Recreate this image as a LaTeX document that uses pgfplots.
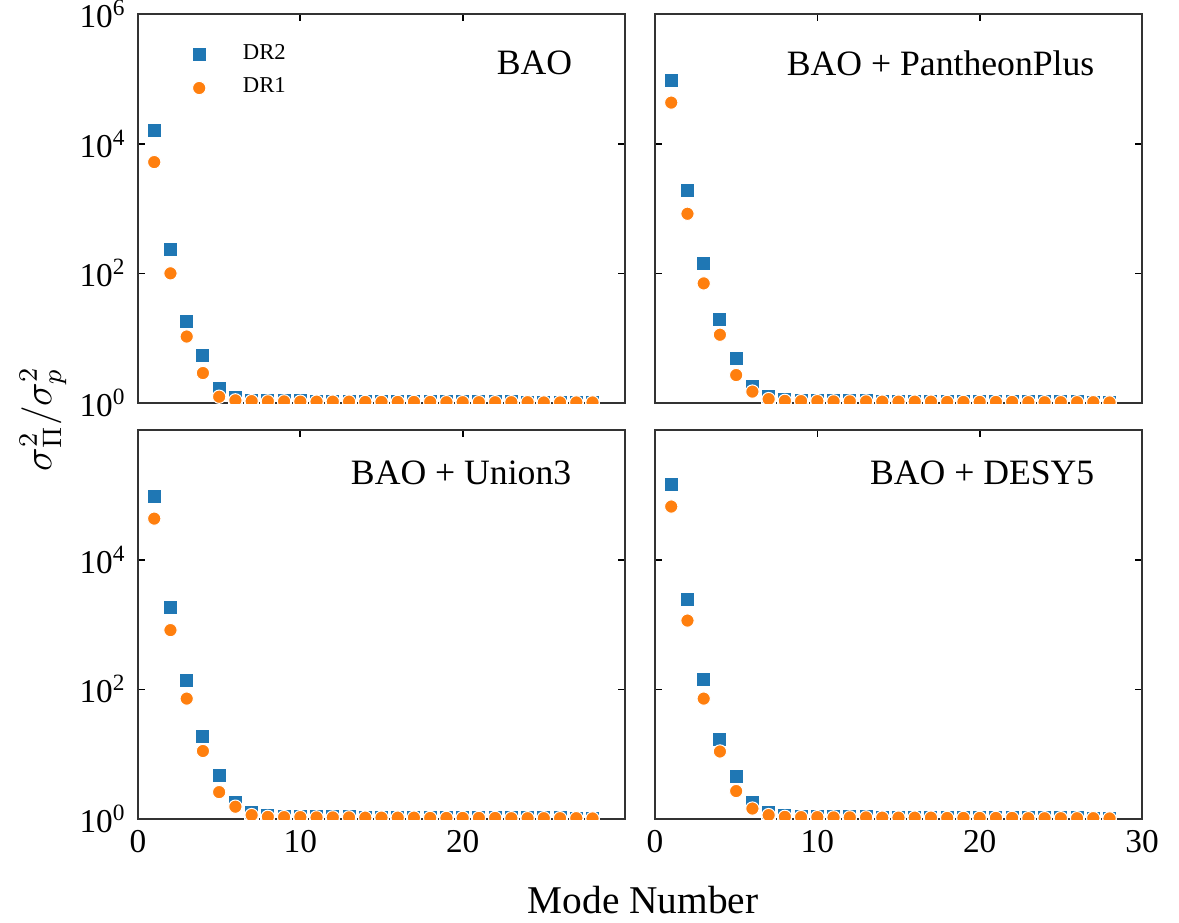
\documentclass[border=0pt]{standalone}
\usepackage{fontspec}
\setmainfont{Liberation Serif}
\usepackage{pgfplots}
\usepackage{pgfplotstable}
\pgfplotsset{compat=1.18}

\definecolor{mplblue}{HTML}{1F77B4}
\definecolor{mplorange}{HTML}{FF7F0E}

% columns: mode, DR2, DR1
\pgfplotstableread{
x dr2 dr1
1 16000 5200
2 230 100
3 18 10.6
4 5.4 2.9
5 1.7 1.25
6 1.2 1.1
7 1.1 1.07
8 1.09 1.06
9 1.08 1.06
10 1.08 1.05
11 1.07 1.05
12 1.07 1.05
13 1.06 1.05
14 1.06 1.04
15 1.06 1.04
16 1.05 1.04
17 1.05 1.04
18 1.05 1.04
19 1.05 1.03
20 1.04 1.03
21 1.04 1.03
22 1.04 1.03
23 1.04 1.03
24 1.03 1.03
25 1.03 1.02
26 1.03 1.02
27 1.03 1.02
28 1.03 1.02
}\baodata

\pgfplotstableread{
x dr2 dr1
1 93000 43000
2 1900 830
3 140 70
4 19.5 11.3
5 4.8 2.7
6 1.8 1.5
7 1.25 1.15
8 1.12 1.08
9 1.1 1.07
10 1.09 1.07
11 1.09 1.06
12 1.08 1.06
13 1.08 1.06
14 1.07 1.05
15 1.07 1.05
16 1.06 1.05
17 1.06 1.05
18 1.06 1.04
19 1.05 1.04
20 1.05 1.04
21 1.05 1.04
22 1.05 1.04
23 1.04 1.03
24 1.04 1.03
25 1.04 1.03
26 1.04 1.03
27 1.03 1.03
28 1.03 1.02
}\pantheondata

\pgfplotstableread{
x dr2 dr1
1 95000 43000
2 1800 820
3 135 72
4 18.7 11.2
5 4.7 2.6
6 1.8 1.55
7 1.25 1.15
8 1.12 1.08
9 1.1 1.07
10 1.09 1.07
11 1.09 1.06
12 1.08 1.06
13 1.08 1.06
14 1.07 1.05
15 1.07 1.05
16 1.06 1.05
17 1.06 1.05
18 1.06 1.04
19 1.05 1.04
20 1.05 1.04
21 1.05 1.04
22 1.05 1.04
23 1.04 1.03
24 1.04 1.03
25 1.04 1.03
26 1.04 1.03
27 1.03 1.03
28 1.03 1.02
}\uniondata

\pgfplotstableread{
x dr2 dr1
1 145000 66000
2 2400 1150
3 140 72
4 17 11
5 4.6 2.7
6 1.8 1.45
7 1.25 1.15
8 1.12 1.08
9 1.1 1.07
10 1.09 1.07
11 1.09 1.06
12 1.08 1.06
13 1.08 1.06
14 1.07 1.05
15 1.07 1.05
16 1.06 1.05
17 1.06 1.05
18 1.06 1.04
19 1.05 1.04
20 1.05 1.04
21 1.05 1.04
22 1.05 1.04
23 1.04 1.03
24 1.04 1.03
25 1.04 1.03
26 1.04 1.03
27 1.03 1.03
28 1.03 1.02
}\desdata

\pgfplotsset{
  mypanel/.style={
    scale only axis, width=146.1pt, height=116.7pt,
    xmin=0, xmax=30, ymin=1, ymax=1e6,
    xtick={0,10,20,30}, ytick={1,1e2,1e4,1e6},
    yminorticks=false,
    tick align=inside, major tick length=2pt,
    xtick pos=both, ytick pos=both,
    axis line style={black!80, line width=0.7pt},
    tick style={black, line width=0.5pt},
    ticklabel style={font=\fontsize{10}{12}\selectfont},
    clip marker paths=true,
  },
  dr2/.style={only marks, mark=square*, mark size=2.1pt,
    mark options={fill=mplblue, draw=white, line width=0.3pt}},
  dr1/.style={only marks, mark=*, mark size=2pt,
    mark options={fill=mplorange, draw=white, line width=0.3pt}},
}
\tikzset{ptitle/.style={anchor=east, inner sep=0pt, font=\fontsize{10.7}{12}\selectfont}}

\begin{document}
\begin{tikzpicture}
% top left
\begin{axis}[ymode=log, mypanel, at={(0pt,0pt)}, anchor=north west,
  xticklabels={},
  yticklabels={10\textsuperscript{0},10\textsuperscript{2},10\textsuperscript{4},10\textsuperscript{6}},
  legend style={draw=none, fill=none, at={(0.11,0.94)}, anchor=north west,
    inner sep=0pt, row sep=0pt, font=\fontsize{6.8}{7.5}\selectfont,
    /tikz/every odd column/.append style={column sep=9pt}},
  legend cell align=left]
\addplot[dr2] table[x=x, y=dr2] {\baodata};
\addlegendentry{DR2}
\addplot[dr1] table[x=x, y=dr1] {\baodata};
\addlegendentry{DR1}
\node[ptitle] at (rel axis cs:0.893,0.874) {BAO};
\end{axis}
% top right
\begin{axis}[ymode=log, mypanel, at={(155.1pt,0pt)}, anchor=north west,
  xticklabels={}, yticklabels={}]
\addplot[dr2] table[x=x, y=dr2] {\pantheondata};
\addplot[dr1] table[x=x, y=dr1] {\pantheondata};
\node[ptitle] at (rel axis cs:0.9035,0.874) {BAO + PantheonPlus};
\end{axis}
% bottom left
\begin{axis}[ymode=log, mypanel, at={(0pt,-124.8pt)}, anchor=north west,
  xticklabels={0,10,20,},
  yticklabels={10\textsuperscript{0},10\textsuperscript{2},10\textsuperscript{4},}]
\addplot[dr2] table[x=x, y=dr2] {\uniondata};
\addplot[dr1] table[x=x, y=dr1] {\uniondata};
\node[ptitle] at (rel axis cs:0.891,0.891) {BAO + Union3};
\end{axis}
% bottom right
\begin{axis}[ymode=log, mypanel, at={(155.1pt,-124.8pt)}, anchor=north west,
  xticklabels={0,10,20,30}, yticklabels={}]
\addplot[dr2] table[x=x, y=dr2] {\desdata};
\addplot[dr1] table[x=x, y=dr1] {\desdata};
\node[ptitle] at (rel axis cs:0.9035,0.891) {BAO + DESY5};
\end{axis}
\node[font=\fontsize{11.8}{14}\selectfont] at (151.5pt,-265.8pt) {Mode Number};
\node[rotate=90, font=\fontsize{12}{14}\selectfont] at (-28.5pt,-121.5pt) {$\sigma^2_{\Pi}/\sigma^2_{p}$};
\pgfresetboundingbox
\path (-41.4pt,4.2pt) rectangle (312.3pt,-272.4pt);
\end{tikzpicture}
\end{document}
